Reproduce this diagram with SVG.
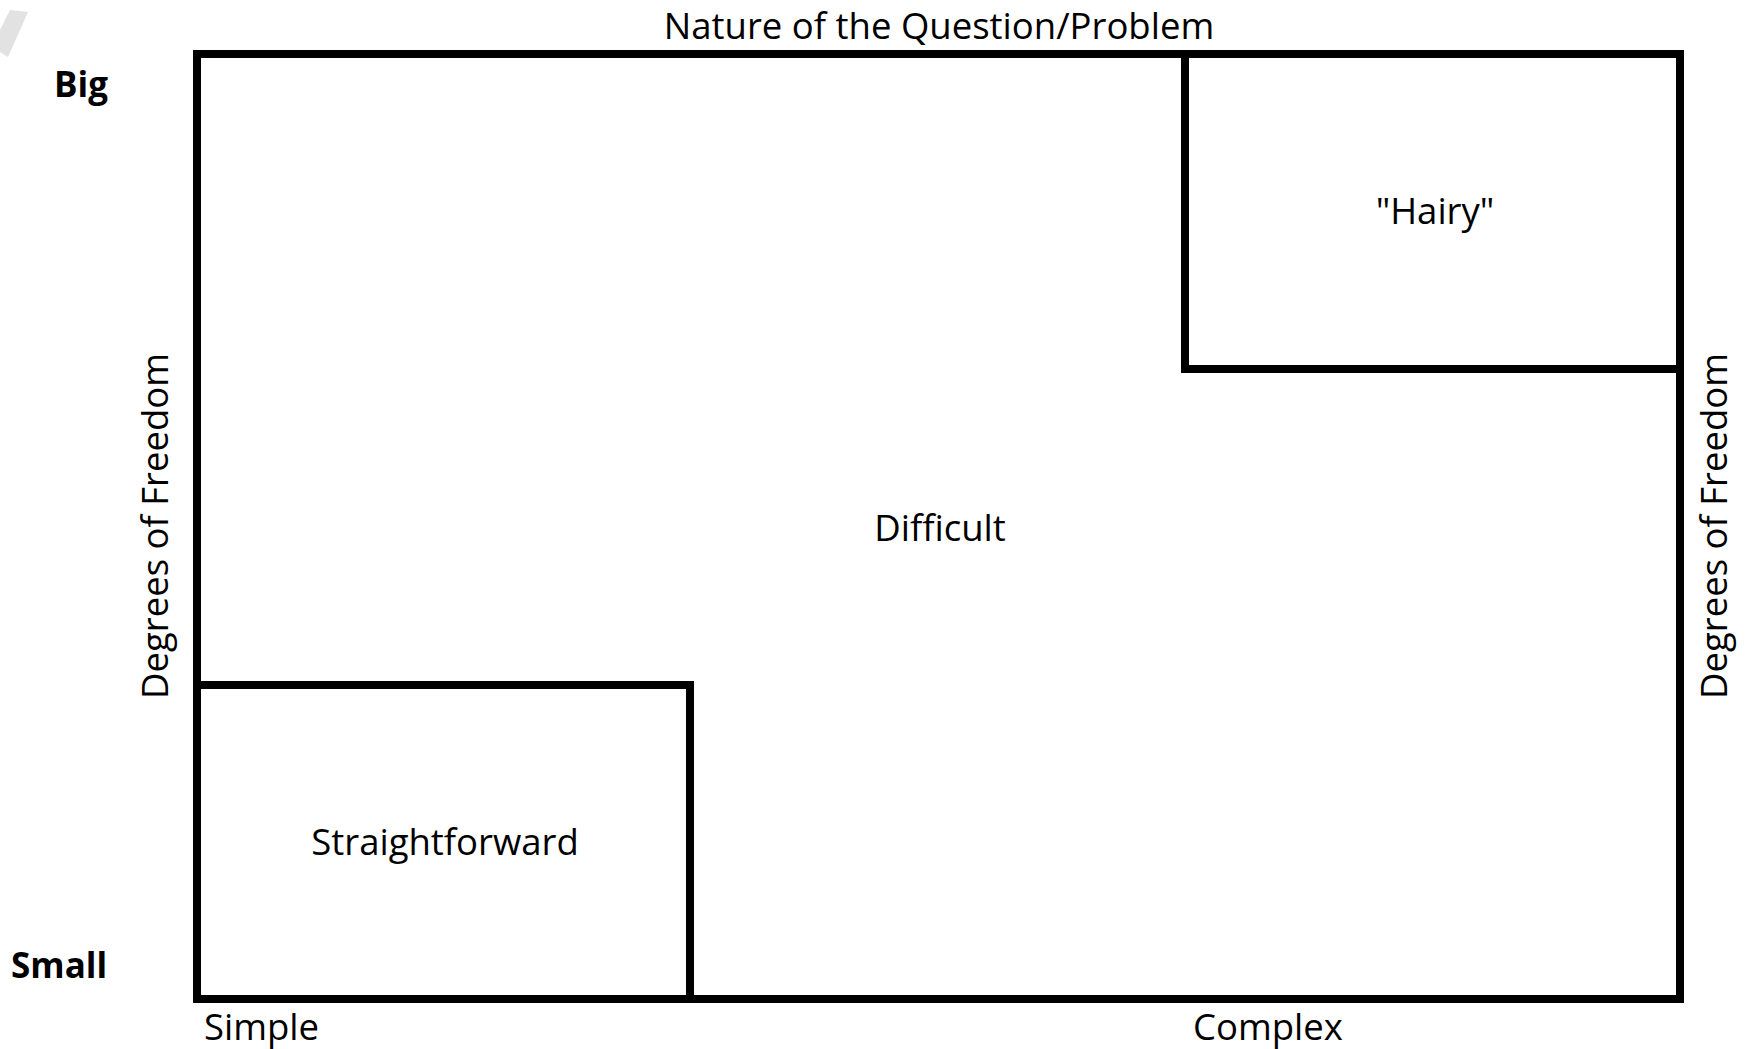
<svg xmlns="http://www.w3.org/2000/svg" width="1760" height="1049" viewBox="0 0 1760 1049">
<style>
.box{fill:none;stroke:#000;stroke-width:8;stroke-linejoin:miter}
.t{font-family:"Open Sans","Liberation Sans",sans-serif;font-size:36.5px;fill:#000}
.b{font-family:"Open Sans","Liberation Sans",sans-serif;font-size:35px;font-weight:bold;fill:#000}
</style>
<rect width="1760" height="1049" fill="#fff"/>
<polygon points="10,10 28,12 8,57 0,52 0,30" fill="#d6d6d6" opacity="0.7"/>
<g id="frame">
<rect class="box" x="197" y="54" width="1483" height="945"/>
</g>
<g id="difficult">
<text class="t" x="940" y="541" text-anchor="middle">Difficult</text>
</g>
<g id="hairy">
<polyline class="box" points="1185,54 1185,369 1680,369"/>
<text class="t" x="1435" y="224" text-anchor="middle">"Hairy"</text>
</g>
<g id="straightforward">
<polyline class="box" points="197,685 690,685 690,999"/>
<text class="t" x="445" y="855" text-anchor="middle">Straightforward</text>
</g>
<g id="labels">
<text class="t" x="939" y="39" text-anchor="middle" style="font-size:36.5px">Nature of the Question/Problem</text>
<text class="b" x="54" y="97">Big</text>
<text class="b" x="11" y="978">Small</text>
<text class="t" x="204" y="1040">Simple</text>
<text class="t" x="1193" y="1040">Complex</text>
<text class="t" transform="translate(168,526) rotate(-90)" text-anchor="middle">Degrees of Freedom</text>
<text class="t" transform="translate(1727,526) rotate(-90)" text-anchor="middle">Degrees of Freedom</text>
</g>
<g id="connectors"></g>
</svg>
